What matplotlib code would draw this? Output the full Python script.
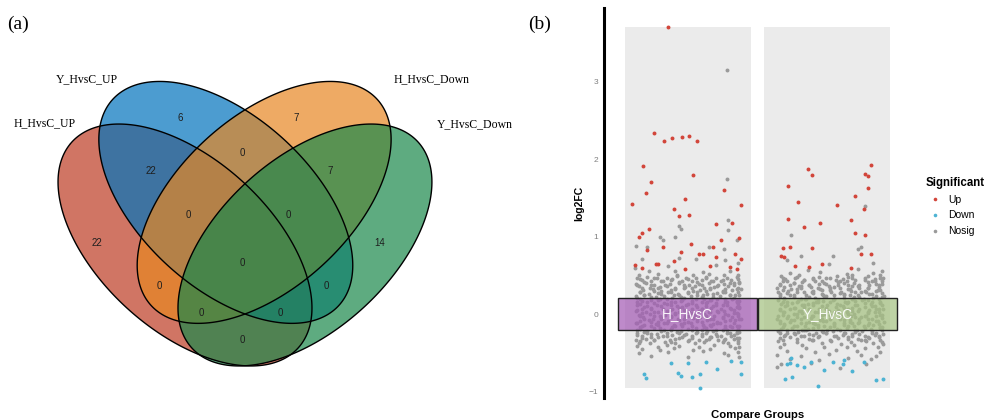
import numpy as np
import matplotlib.pyplot as plt
from matplotlib.patches import Polygon, Rectangle
from matplotlib.lines import Line2D
from matplotlib.colors import to_rgba

# ---------------- (a) four-set Venn ----------------
set_names = ["H_HvsC_UP", "Y_HvsC_UP", "H_HvsC_Down", "Y_HvsC_Down"]
set_colors = ["#BC3A23", "#0073BC", "#E78722", "#1A884B"]

# membership flags in order (H_UP, Y_UP, H_Down, Y_Down)
region_keys = ["1000", "0100", "0010", "0001", "1100", "0110", "0011", "1110",
               "0111", "1111", "1010", "0101", "1011", "1101", "1001"]
region_counts = [22, 6, 7, 14, 22, 0, 7, 0, 0, 0, 0, 0, 0, 0, 0]

# ---------------- (b) log2FC per compare group ----------------
groups = ["H_HvsC", "Y_HvsC"]
sig_levels = ["Up", "Down", "Nosig"]
sig_colors = ["#D2453A", "#4DB3D3", "#9A9A9A"]
tile_colors = ["#A55DB6", "#A6C282"]

# points as (x offset within group, log2FC), both in hundredths
h_up = [(-14, 371), (-24, 234), (-17, 223), (-11, 227), (-4, 229), (1, 230), (7, 223),
        (-32, 191), (4, 180), (-26, 170), (-30, 156), (26, 160), (-2, 149), (-40, 142),
        (38, 141), (-10, 135), (-6, 126), (1, 128), (20, 116), (32, 117), (-28, 110),
        (-33, 105), (-35, 99), (24, 95), (37, 98), (2, 90), (-29, 83), (-18, 86), (18, 87),
        (-5, 80), (8, 77), (11, 77), (20, 74), (34, 77), (38, 71), (-10, 69), (-38, 63),
        (-33, 60), (-23, 65), (-21, 64), (-2, 58), (16, 62), (30, 61), (35, 58)]
h_down = [(-12, -63), (0, -63), (13, -62), (38, -62), (31, -61), (21, -71), (38, -77),
          (-31, -78), (-30, -83), (-7, -76), (-5, -80), (3, -81), (9, -78), (9, -96)]
h_nosig = [
    (28, 315), (28, 174), (-6, 113), (-5, 110), (29, 121), (29, 108), (-20, 100), (-9, 99),
    (-18, 95), (35, 96), (-37, 88), (-29, 86), (15, 86), (26, 84), (-33, 71), (-6, 72),
    (6, 71), (27, 70), (-38, 60), (-14, 62), (20, 63), (36, 66),
    (-28, 55), (-9, 56), (11, 54), (30, 55),
    (-35, 51), (-21, 52), (-8, 50), (4, 51), (15, 52), (26, 50), (36, 51),
    (-36, 47), (-29, 48), (-22, 46), (-15, 47), (-8, 49), (-1, 46), (6, 47), (13, 48), (20, 46), (28, 47), (35, 48),
    (-34, 45), (-24, 46), (-12, 44), (0, 45), (13, 46), (25, 44), (36, 45),
    (-33, 44), (-26, 42), (-18, 43), (-11, 45), (-4, 42), (3, 43), (10, 44), (17, 42), (24, 43), (31, 44), (37, 41),
    (-31, 41), (-19, 42), (-6, 40), (7, 41), (18, 42), (30, 40), (37, 40),
    (-37, 39), (-30, 40), (-24, 38), (-13, 39), (-6, 41), (1, 38), (8, 39), (15, 40), (22, 38), (26, 39), (33, 40),
    (-36, 37), (-26, 38), (-15, 36), (-3, 37), (10, 38), (21, 36), (33, 37),
    (-35, 36), (-27, 34), (-20, 35), (-16, 37), (-9, 34), (-2, 35), (5, 36), (12, 34), (19, 35), (29, 36), (36, 33),
    (-33, 33), (-21, 34), (-9, 32), (3, 33), (16, 34), (27, 32), (35, 32),
    (-32, 31), (-25, 32), (-19, 30), (-12, 31), (-3, 33), (4, 30), (9, 31), (16, 32), (25, 30), (32, 31), (38, 32),
    (-34, 29), (-24, 30), (-12, 28), (0, 29), (13, 30), (25, 28), (36, 29),
    (-34, 28), (-28, 26), (-21, 27), (-14, 29), (-7, 26), (0, 27), (7, 28), (14, 26), (21, 27), (27, 28), (34, 25),
    (-31, 25), (-19, 26), (-6, 24), (7, 25), (18, 26), (30, 24), (37, 25),
    (-37, 23), (-31, 24), (-23, 22), (-17, 23), (-10, 25), (-5, 22), (2, 23), (11, 24), (18, 22), (23, 23), (30, 24),
    (-36, 21), (-26, 22), (-15, 20), (-3, 21), (10, 22), (21, 20), (33, 21),
    (-34, 20), (-26, 18), (-20, 19), (-11, 21), (-4, 18), (6, 19), (12, 20), (17, 18), (27, 19), (32, 20), (37, 17),
    (-33, 17), (-21, 18), (-9, 16), (3, 17), (16, 18), (27, 16), (35, 17),
    (-36, 15), (-29, 16), (-17, 14), (-12, 15), (-5, 17), (3, 14), (10, 15), (14, 16), (20, 14), (28, 15), (35, 16),
    (-34, 13), (-24, 14), (-12, 12), (0, 13), (13, 14), (25, 12), (36, 13),
    (-36, 12), (-29, 10), (-22, 11), (-15, 13), (-8, 10), (-1, 11), (6, 12), (13, 10), (20, 11), (28, 12), (35, 9),
    (-31, 9), (-19, 10), (-6, 8), (7, 9), (18, 10), (30, 8), (37, 9),
    (-33, 7), (-26, 8), (-18, 6), (-11, 7), (-4, 9), (3, 6), (10, 7), (17, 8), (24, 6), (31, 7), (37, 8),
    (-36, 5), (-26, 6), (-15, 4), (-3, 5), (10, 6), (21, 4), (33, 5),
    (-37, 4), (-30, 2), (-24, 3), (-13, 5), (-6, 2), (1, 3), (8, 4), (15, 2), (22, 3), (26, 4), (33, 1),
    (-33, 1), (-21, 2), (-9, 0), (3, 1), (16, 2), (27, 0), (35, 1),
    (-35, -1), (-27, 0), (-20, -2), (-16, -1), (-9, 1), (-2, -2), (5, -1), (12, 0), (19, -2), (29, -1), (36, 0),
    (-34, -3), (-24, -2), (-12, -4), (0, -3), (13, -2), (25, -4), (36, -3),
    (-32, -4), (-25, -6), (-19, -5), (-12, -3), (-3, -6), (4, -5), (9, -4), (16, -6), (25, -5), (32, -4), (38, -7),
    (-31, -7), (-19, -6), (-6, -8), (7, -7), (18, -6), (30, -8), (37, -7),
    (-34, -9), (-28, -8), (-21, -10), (-14, -9), (-7, -7), (0, -10), (7, -9), (14, -8), (21, -10), (27, -9), (34, -8),
    (-36, -11), (-26, -10), (-15, -12), (-3, -11), (10, -10), (21, -12), (33, -11),
    (-37, -12), (-31, -14), (-23, -13), (-17, -11), (-10, -14), (-5, -13), (2, -12), (11, -14), (18, -13), (23, -12), (30, -15),
    (-33, -15), (-21, -14), (-9, -16), (3, -15), (16, -14), (27, -16), (35, -15),
    (-34, -17), (-26, -16), (-20, -18), (-11, -17), (-4, -15), (6, -18), (12, -17), (17, -16), (27, -18), (32, -17), (37, -16),
    (-34, -19), (-24, -18), (-12, -20), (0, -19), (13, -18), (25, -20), (36, -19),
    (-36, -20), (-29, -22), (-17, -21), (-12, -19), (-5, -22), (3, -21), (10, -20), (14, -22), (20, -21), (28, -20), (35, -23),
    (-31, -23), (-19, -22), (-6, -24), (7, -23), (18, -22), (30, -24), (37, -23),
    (-36, -25), (-29, -24), (-22, -26), (-15, -25), (-8, -23), (-1, -26), (6, -25), (13, -24), (20, -26), (28, -25), (35, -24),
    (-36, -27), (-26, -26), (-15, -28), (-3, -27), (10, -26), (21, -28), (33, -27),
    (-33, -28), (-26, -30), (-18, -29), (-11, -27), (-4, -30), (3, -29), (10, -28), (17, -30), (24, -29), (31, -28), (37, -31),
    (-33, -31), (-21, -30), (-9, -32), (3, -31), (16, -30), (27, -32), (35, -31),
    (-37, -33), (-30, -32), (-24, -34), (-13, -33), (-6, -31), (1, -34), (8, -33), (15, -32), (22, -34), (26, -33), (33, -32),
    (-34, -35), (-24, -34), (-12, -36), (0, -35), (13, -34), (25, -36), (36, -35),
    (-35, -37), (-27, -38), (-16, -36), (-9, -38), (5, -37), (12, -36), (29, -38), (36, -37),
    (-36, -41), (-21, -42), (-15, -40), (-6, -41), (8, -42), (19, -40), (30, -41), (37, -42),
    (-33, -45), (-20, -46), (-10, -44), (4, -46), (16, -45), (34, -44),
    (-35, -50), (-14, -49), (11, -48), (26, -50), (36, -49),
    (-26, -54), (0, -55), (29, -53), (37, -56)]

y_up = [(-14, 187), (-11, 179), (31, 192), (27, 181), (29, 178), (-28, 165), (29, 163),
        (20, 152), (-21, 145), (7, 141), (26, 135), (-28, 123), (17, 122), (-5, 117),
        (-17, 112), (20, 105), (27, 102), (-27, 87), (-32, 85), (-11, 85), (24, 78),
        (31, 77), (-33, 75), (-31, 74), (-4, 65), (-23, 62), (-13, 61), (17, 59)]
y_down = [(-29, -65), (-27, -63), (-26, -57), (-22, -66), (-17, -68), (-30, -84), (-25, -81),
          (-12, -62), (-7, -93), (-2, -72), (4, -62), (11, -64), (12, -59), (18, -74),
          (26, -62), (35, -85), (40, -84)]
y_nosig = [
    (27, 140), (-26, 102), (-19, 75), (4, 75), (1, 64), (22, 84), (24, 87), (-29, 70), (33, 66),
    (-14, 57), (22, 58), (39, 56),
    (-27, 53), (-5, 54), (14, 52), (33, 53),
    (-33, 49), (-20, 50), (-6, 48), (7, 49), (18, 51), (29, 49), (38, 50),
    (-32, 47), (-22, 48), (-10, 46), (2, 47), (15, 48), (27, 46), (38, 47),
    (-30, 45), (-23, 46), (-17, 44), (-10, 45), (-1, 47), (6, 44), (11, 45), (18, 46), (27, 44), (34, 45), (40, 46),
    (-29, 43), (-17, 44), (-4, 42), (9, 43), (20, 44), (32, 42), (39, 43),
    (-32, 42), (-24, 40), (-18, 41), (-9, 43), (-2, 40), (8, 41), (14, 42), (19, 40), (29, 41), (34, 42), (39, 39),
    (-34, 39), (-24, 40), (-13, 38), (-1, 39), (12, 40), (23, 38), (35, 39),
    (-34, 37), (-27, 38), (-20, 36), (-13, 37), (-6, 39), (1, 36), (8, 37), (15, 38), (22, 36), (30, 37), (37, 38),
    (-31, 35), (-19, 36), (-7, 34), (5, 35), (18, 36), (29, 34), (37, 35),
    (-36, 34), (-26, 32), (-19, 33), (-12, 35), (-5, 32), (2, 33), (9, 34), (16, 32), (23, 33), (29, 34), (36, 31),
    (-32, 31), (-22, 32), (-10, 30), (2, 31), (15, 32), (27, 30), (38, 31),
    (-35, 29), (-28, 30), (-22, 28), (-11, 29), (-4, 31), (3, 28), (10, 29), (17, 30), (24, 28), (28, 29), (35, 30),
    (-29, 27), (-17, 28), (-4, 26), (9, 27), (20, 28), (32, 26), (39, 27),
    (-34, 26), (-27, 24), (-15, 25), (-10, 27), (-3, 24), (5, 25), (12, 26), (16, 24), (22, 25), (30, 26), (41, 23),
    (-34, 23), (-24, 24), (-13, 22), (-1, 23), (12, 24), (23, 22), (35, 23),
    (-31, 21), (-24, 22), (-16, 20), (-9, 21), (-2, 23), (5, 20), (12, 21), (19, 22), (26, 20), (33, 21), (39, 22),
    (-31, 19), (-19, 20), (-7, 18), (5, 19), (18, 20), (29, 18), (37, 19),
    (-35, 18), (-29, 16), (-21, 17), (-15, 19), (-8, 16), (-3, 17), (4, 18), (13, 16), (20, 17), (25, 18), (32, 15),
    (-32, 15), (-22, 16), (-10, 14), (2, 15), (15, 16), (27, 14), (38, 15),
    (-33, 13), (-25, 14), (-18, 12), (-14, 13), (-7, 15), (0, 12), (7, 13), (14, 14), (21, 12), (31, 13), (38, 14),
    (-29, 11), (-17, 12), (-4, 10), (9, 11), (20, 12), (32, 10), (39, 11),
    (-30, 10), (-23, 8), (-17, 9), (-10, 11), (-1, 8), (6, 9), (11, 10), (18, 8), (27, 9), (34, 10), (40, 7),
    (-34, 7), (-24, 8), (-13, 6), (-1, 7), (12, 8), (23, 6), (35, 7),
    (-34, 5), (-27, 6), (-20, 4), (-13, 5), (-6, 7), (1, 4), (8, 5), (15, 6), (22, 4), (30, 5), (37, 6),
    (-31, 3), (-19, 4), (-7, 2), (5, 3), (18, 4), (29, 2), (37, 3),
    (-32, 2), (-24, 0), (-18, 1), (-9, 3), (-2, 0), (8, 1), (14, 2), (19, 0), (29, 1), (34, 2), (39, -1),
    (-32, -1), (-22, 0), (-10, -2), (2, -1), (15, 0), (27, -2), (38, -1),
    (-35, -3), (-28, -2), (-22, -4), (-11, -3), (-4, -1), (3, -4), (10, -3), (17, -2), (24, -4), (28, -3), (35, -2),
    (-29, -5), (-17, -4), (-4, -6), (9, -5), (20, -4), (32, -6), (39, -5),
    (-36, -6), (-26, -8), (-19, -7), (-12, -5), (-5, -8), (2, -7), (9, -6), (16, -8), (23, -7), (29, -6), (36, -9),
    (-34, -9), (-24, -8), (-13, -10), (-1, -9), (12, -8), (23, -10), (35, -9),
    (-34, -11), (-27, -10), (-15, -12), (-10, -11), (-3, -9), (5, -12), (12, -11), (16, -10), (22, -12), (30, -11), (41, -10),
    (-31, -13), (-19, -12), (-7, -14), (5, -13), (18, -12), (29, -14), (37, -13),
    (-31, -14), (-24, -16), (-16, -15), (-9, -13), (-2, -16), (5, -15), (12, -14), (19, -16), (26, -15), (33, -14), (39, -17),
    (-32, -17), (-22, -16), (-10, -18), (2, -17), (15, -16), (27, -18), (38, -17),
    (-33, -19), (-25, -18), (-18, -20), (-14, -19), (-7, -17), (0, -20), (7, -19), (14, -18), (21, -20), (31, -19), (38, -18),
    (-29, -21), (-17, -20), (-4, -22), (9, -21), (20, -20), (32, -22), (39, -21),
    (-35, -22), (-29, -24), (-21, -23), (-15, -21), (-8, -24), (-3, -23), (4, -22), (13, -24), (20, -23), (25, -22), (32, -25),
    (-34, -25), (-24, -24), (-13, -26), (-1, -25), (12, -24), (23, -26), (35, -25),
    (-30, -27), (-23, -26), (-17, -28), (-10, -27), (-1, -25), (6, -28), (11, -27), (18, -26), (27, -28), (34, -27), (40, -26),
    (-31, -29), (-19, -28), (-7, -30), (5, -29), (18, -28), (29, -30), (37, -29),
    (-34, -31), (-27, -30), (-13, -32), (-6, -29), (8, -31), (15, -30), (22, -32), (30, -31), (37, -30),
    (-32, -33), (-22, -32), (-10, -34), (2, -33), (15, -32), (27, -34), (38, -33),
    (-35, -35), (-22, -36), (-11, -34), (3, -35), (17, -36), (24, -34), (28, -35), (39, -36),
    (-31, -39), (-18, -40), (-4, -38), (10, -39), (19, -40), (33, -38), (40, -39),
    (-34, -43), (-15, -44), (-2, -42), (14, -43), (27, -44), (36, -42),
    (-29, -48), (-9, -49), (6, -47), (21, -48), (38, -49),
    (-36, -53), (-19, -54), (1, -52), (24, -53), (35, -54),
    (-27, -58), (-6, -59), (15, -57), (31, -58),
    (-33, -64), (-12, -63), (28, -65),
    (-36, -69), (9, -70)]

group_points = {
    "H_HvsC": {"Up": h_up, "Down": h_down, "Nosig": h_nosig},
    "Y_HvsC": {"Up": y_up, "Down": y_down, "Nosig": y_nosig},
}

SERIF = ["Liberation Serif", "DejaVu Serif"]
SANS = ["Liberation Sans", "DejaVu Sans"]

fig = plt.figure(figsize=(9.85, 4.2), dpi=100)

# ---- Venn panel, drawn in a pixel-like frame ----
ax_v = fig.add_axes([0, 0, 500 / 985, 1])
ax_v.set_xlim(0, 500)
ax_v.set_ylim(420, 0)
ax_v.axis("off")

# ellipse layout in unit square (centre x, centre y, rotation)
venn_geo = [(0.350, 0.400, 140), (0.450, 0.500, 140), (0.544, 0.500, 40), (0.644, 0.400, 40)]
semi_a, semi_b = 0.368, 0.205
venn_x0, venn_y0, venn_sx, venn_sy = 42.2, 415.4, 408, 426

t = np.linspace(0, 2 * np.pi, 500)


def ellipse_outline(cx, cy, ang):
    th = np.deg2rad(ang)
    ex = cx + semi_a * np.cos(t) * np.cos(th) - semi_b * np.sin(t) * np.sin(th)
    ey = cy + semi_a * np.cos(t) * np.sin(th) + semi_b * np.sin(t) * np.cos(th)
    return np.column_stack([venn_x0 + venn_sx * ex, venn_y0 - venn_sy * ey])


outlines = [ellipse_outline(*g) for g in venn_geo]
for xy, col in zip(outlines, set_colors):
    ax_v.add_patch(Polygon(xy, closed=True, facecolor=col, alpha=0.7, edgecolor="none"))
for xy in outlines:
    ax_v.add_patch(Polygon(xy, closed=True, fill=False, edgecolor="black", lw=1.0))

# count label positions (pixels)
region_pos = {
    "1000": (97, 243), "0100": (180, 118), "0010": (296, 118), "0001": (380, 243),
    "1100": (151, 171), "0110": (242, 153), "0011": (330, 171), "1110": (188, 215),
    "0111": (288, 215), "1111": (242, 263), "1010": (159, 286), "0101": (326, 286),
    "1011": (201, 313), "1101": (280, 313), "1001": (242, 340),
}
for key, n in zip(region_keys, region_counts):
    px, py = region_pos[key]
    ax_v.text(px, py, str(n), ha="center", va="center", fontsize=7,
              family=SANS, color="#1E1E1E")

name_pos = [(14, 123), (56, 79), (394, 79), (437, 124)]
for name, (px, py) in zip(set_names, name_pos):
    ax_v.text(px, py, name, ha="left", va="center", fontsize=8.5, family=SERIF)

fig.text(18 / 985, 1 - 24 / 420, "(a)", ha="center", va="center", fontsize=14, family=SERIF)
fig.text(540 / 985, 1 - 24 / 420, "(b)", ha="center", va="center", fontsize=14, family=SERIF)

# ---- log2FC scatter panel ----
ax = fig.add_axes([604 / 985, 22 / 420, 307 / 985, 390 / 420])
ax.set_xlim(0.4, 2.6)
ax.set_ylim(-1.084, 3.95)

all_fc = [p[1] / 100 for g in groups for lvl in sig_levels for p in group_points[g][lvl]]
fc_min, fc_max = min(all_fc), max(all_fc)
xpos = np.arange(1, len(groups) + 1)
ax.bar(xpos, fc_max - fc_min, bottom=fc_min, width=0.9, color="#EBEBEB", zorder=0)

for i, g in enumerate(groups):
    for lvl, col in zip(["Nosig", "Up", "Down"], [sig_colors[2], sig_colors[0], sig_colors[1]]):
        pts = np.array(group_points[g][lvl], dtype=float) / 100
        ax.scatter(xpos[i] + pts[:, 0], pts[:, 1], s=8, color=col, linewidths=0, zorder=2)

for i, g in enumerate(groups):
    ax.add_patch(Rectangle((xpos[i] - 0.5, -0.206), 1.0, 0.412,
                           facecolor=to_rgba(tile_colors[i], 0.72),
                           edgecolor="#222222", lw=1.0, zorder=3))
    ax.text(xpos[i], 0, g, ha="center", va="center", fontsize=9.8, family=SANS,
            color="white", alpha=0.92, zorder=4)

for side in ["top", "right", "bottom"]:
    ax.spines[side].set_visible(False)
ax.spines["left"].set_linewidth(2.2)
ax.set_xticks([])
ax.set_yticks([-1, 0, 1, 2, 3])
ax.tick_params(axis="y", length=0, labelsize=6, labelcolor="#7F7F7F", pad=4)
for lab in ax.get_yticklabels():
    lab.set_family(SANS)
ax.set_ylabel("log2FC", fontsize=7.5, fontweight="bold", family=SANS, labelpad=3)
ax.set_xlabel("Compare Groups", fontsize=8.2, fontweight="bold", family=SANS, labelpad=9)

handles = [Line2D([], [], ls="none", marker="o", markersize=2.6, color=c, markeredgewidth=0)
           for c in sig_colors]
ax.legend(handles, sig_levels, title="Significant", loc="upper left",
          bbox_to_anchor=(926 / 985, 1 - 177 / 420), bbox_transform=fig.transFigure,
          frameon=False, alignment="left", handlelength=1.8, handletextpad=0.3,
          labelspacing=0.55, borderpad=0, borderaxespad=0,
          prop={"family": SANS, "size": 7.5},
          title_fontproperties={"family": SANS, "size": 8.3, "weight": "bold"})

fig.savefig("out.png", dpi=100)
